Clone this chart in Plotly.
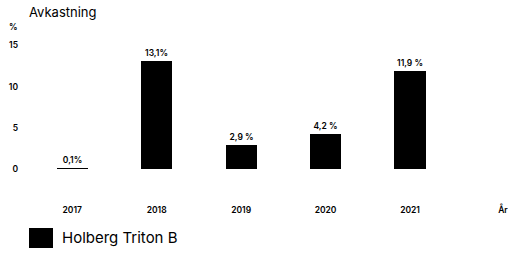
import plotly.graph_objects as go

years = ["2017", "2018", "2019", "2020", "2021"]
values = [0.1, 13.1, 2.9, 4.2, 11.9]
value_labels = ["0,1%", "13,1%", "2,9 %", "4,2 %", "11,9 %"]
y_ticks = [0, 5, 10, 15]
series_name = "Holberg Triton B"
x_axis_title = "År"
y_unit = "%"
chart_title = "Avkastning"

FONT = "Inter"
x_pos = list(range(len(years)))

fig = go.Figure()
fig.add_trace(go.Bar(
    x=x_pos, y=values, width=0.37, name=series_name,
    marker=dict(color="black", line=dict(width=0)),
    text=value_labels, textposition="outside", cliponaxis=False,
    textfont=dict(family=FONT, size=8.5, color="black", weight=600),
    showlegend=False, hoverinfo="skip",
))

small = dict(family=FONT, size=8.5, color="black", weight=600)

fig.update_layout(
    width=508, height=253,
    margin=dict(l=30, r=0, t=33, b=84, autoexpand=False),
    paper_bgcolor="white", plot_bgcolor="white",
    font=dict(family=FONT, color="black"),
    bargap=0,
    xaxis=dict(
        range=[-0.5, 5.16],
        tickvals=x_pos + [len(years) + 0.1],
        ticktext=years + [x_axis_title],
        showgrid=False, zeroline=False, showline=False, ticks="",
        tickfont=small, automargin=False,
        ticklabelstandoff=34, ticklabeloverflow="allow",
    ),
    yaxis=dict(
        range=[0, 16.5],
        tickvals=y_ticks,
        showgrid=False, zeroline=False, showline=False, ticks="",
        tickfont=small, automargin=False,
        ticklabelstandoff=11,
    ),
    showlegend=False,
    shapes=[
        dict(type="rect", xref="paper", yref="paper",
             xsizemode="pixel", ysizemode="pixel",
             xanchor=0, yanchor=0, x0=-1, x1=23, y0=-79, y1=-59,
             fillcolor="black", line=dict(width=0)),
    ],
    annotations=[
        dict(text=series_name, xref="paper", yref="paper", x=0, y=0,
             xanchor="left", yanchor="middle", xshift=30, yshift=-68,
             showarrow=False, font=dict(family=FONT, size=15, color="black")),
        dict(text=chart_title, xref="paper", yref="paper", x=0, y=1,
             xanchor="left", yanchor="middle", xshift=-3, yshift=21,
             showarrow=False, font=dict(family=FONT, size=13, color="black")),
        dict(text=y_unit, xref="paper", yref="paper", x=0, y=1,
             xanchor="center", yanchor="middle", xshift=-17, yshift=6,
             showarrow=False, font=small),
    ],
)

fig.write_html("out.html",
               config={"displayModeBar": False},
               post_script="document.body.style.margin='0';"
                           "document.body.style.overflow='hidden';")
